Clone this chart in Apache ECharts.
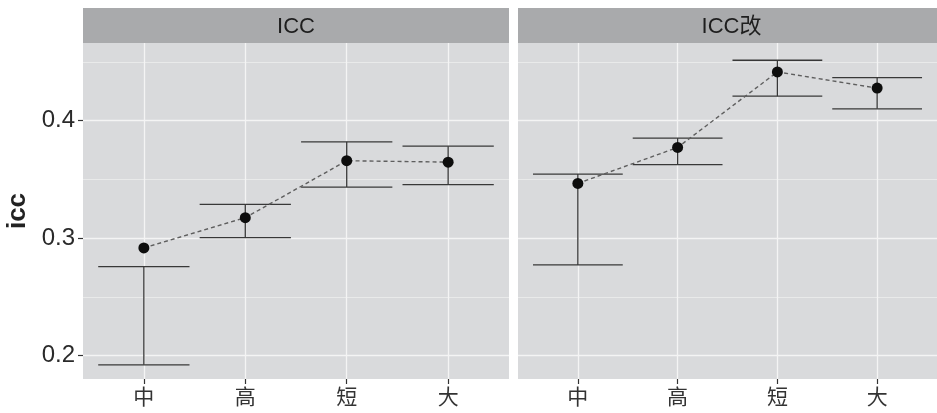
<!DOCTYPE html>
<html><head><meta charset="utf-8">
<script src="https://cdn.jsdelivr.net/npm/echarts@6/dist/echarts.min.js"></script>
<style>html,body{margin:0;padding:0;background:#fff}#c{width:937px;height:413px}</style>
</head><body><div id="c"></div>
<script>
const categories = ['中', '高', '短', '大'];
const panelTitles = ['ICC', 'ICC改'];
const iccMean = [0.2916, 0.3173, 0.3658, 0.3646];
const iccLow = [0.1921, 0.3003, 0.3434, 0.3454];
const iccHigh = [0.2757, 0.3286, 0.3819, 0.3782];
const iccGaiMean = [0.3465, 0.3771, 0.4414, 0.4276];
const iccGaiLow = [0.2771, 0.3624, 0.4207, 0.4100];
const iccGaiHigh = [0.3544, 0.3850, 0.4513, 0.4366];
const yMajorTicks = [0.2, 0.3, 0.4];
const yMinorTicks = [0.25, 0.35, 0.45];
const yMin = 0.18, yMax = 0.466;

const FONT = "'Liberation Sans', 'Noto Sans CJK SC', sans-serif";
const catPos = categories.map((c, i) => i + 1);
const panels = [
  {mean: iccMean, low: iccLow, high: iccHigh},
  {mean: iccGaiMean, low: iccGaiLow, high: iccGaiHigh}
];
const grids = [
  {left: 83, top: 43, width: 426, height: 336},
  {left: 518, top: 43, width: 427, height: 336}
];
const strip = {top: 8, height: 35};

const xAxis = grids.map((g, i) => ({
  type: 'value', gridIndex: i, min: 0.4, max: 4.6,
  axisLine: {show: false},
  axisTick: {show: true, customValues: catPos, length: 5, lineStyle: {color: '#333', width: 1.2}},
  axisLabel: {show: true, customValues: catPos, margin: 9, fontSize: 21, color: '#333', fontFamily: FONT,
    formatter: v => categories[Math.round(v) - 1] || ''},
  splitLine: {show: true, lineStyle: {color: '#f4f4f4', width: 1.3}}
}));

const yAxis = [];
grids.forEach((g, i) => {
  yAxis.push({
    type: 'value', gridIndex: i, min: yMin, max: yMax,
    name: i === 0 ? 'icc' : '', nameLocation: 'middle', nameGap: 52,
    nameTextStyle: {fontSize: 26, fontWeight: 'bold', color: '#222', fontFamily: FONT},
    axisLine: {show: false},
    axisTick: {show: i === 0, customValues: yMajorTicks, length: 5, lineStyle: {color: '#333', width: 1.2}},
    axisLabel: {show: i === 0, customValues: yMajorTicks, margin: 8, fontSize: 24, color: '#2a2a2a', fontFamily: FONT,
      formatter: v => v.toFixed(1)},
    splitLine: {show: true, lineStyle: {color: '#f4f4f4', width: 1.3}}
  });
});
grids.forEach((g, i) => {
  yAxis.push({
    type: 'value', gridIndex: i, min: yMin, max: yMax,
    axisLine: {show: false},
    axisTick: {show: false, customValues: yMinorTicks},
    axisLabel: {show: false, customValues: yMinorTicks},
    splitLine: {show: true, lineStyle: {color: '#eeeeee', width: 0.8}}
  });
});

function renderErr(params, api) {
  const x = api.value(0), lo = api.value(1), hi = api.value(2);
  const pLo = api.coord([x, lo]), pHi = api.coord([x, hi]);
  const w = api.size([0.9, 0])[0];
  const style = {stroke: '#383838', lineWidth: 1.3, fill: null};
  return {type: 'group', children: [
    {type: 'line', shape: {x1: pHi[0], y1: pHi[1], x2: pLo[0], y2: pLo[1]}, style},
    {type: 'line', shape: {x1: pHi[0] - w / 2, y1: pHi[1], x2: pHi[0] + w / 2, y2: pHi[1]}, style},
    {type: 'line', shape: {x1: pLo[0] - w / 2, y1: pLo[1], x2: pLo[0] + w / 2, y2: pLo[1]}, style}
  ]};
}

const series = [];
panels.forEach((p, i) => {
  series.push({
    type: 'custom', xAxisIndex: i, yAxisIndex: i, renderItem: renderErr,
    encode: {x: 0, y: [1, 2]}, silent: true, z: 2,
    data: catPos.map((x, k) => [x, p.low[k], p.high[k]])
  });
  series.push({
    type: 'line', xAxisIndex: i, yAxisIndex: i, symbol: 'none', silent: true, z: 3,
    lineStyle: {color: '#5e5e5e', width: 1.4, type: [4, 3]},
    data: catPos.map((x, k) => [x, p.mean[k]])
  });
  series.push({
    type: 'scatter', xAxisIndex: i, yAxisIndex: i, symbolSize: 11, silent: true, z: 4,
    itemStyle: {color: '#0d0d0d', opacity: 1},
    data: catPos.map((x, k) => [x, p.mean[k]])
  });
});

const graphic = [];
grids.forEach((g, i) => {
  graphic.push({type: 'rect', left: g.left, top: strip.top, silent: true,
    shape: {width: g.width, height: strip.height}, style: {fill: '#a9aaac'}});
  graphic.push({type: 'text', x: g.left + g.width / 2, y: strip.top + strip.height / 2 + 1, silent: true,
    style: {text: panelTitles[i], font: '22px ' + FONT, fill: '#1e1e1e', textAlign: 'center', textVerticalAlign: 'middle'}});
});

const chart = echarts.init(document.getElementById('c'));
chart.setOption({
  animation: false,
  backgroundColor: '#ffffff',
  grid: grids.map(g => Object.assign({show: true, backgroundColor: '#d9dadc', borderWidth: 0}, g)),
  xAxis, yAxis, series, graphic
});
</script></body></html>
